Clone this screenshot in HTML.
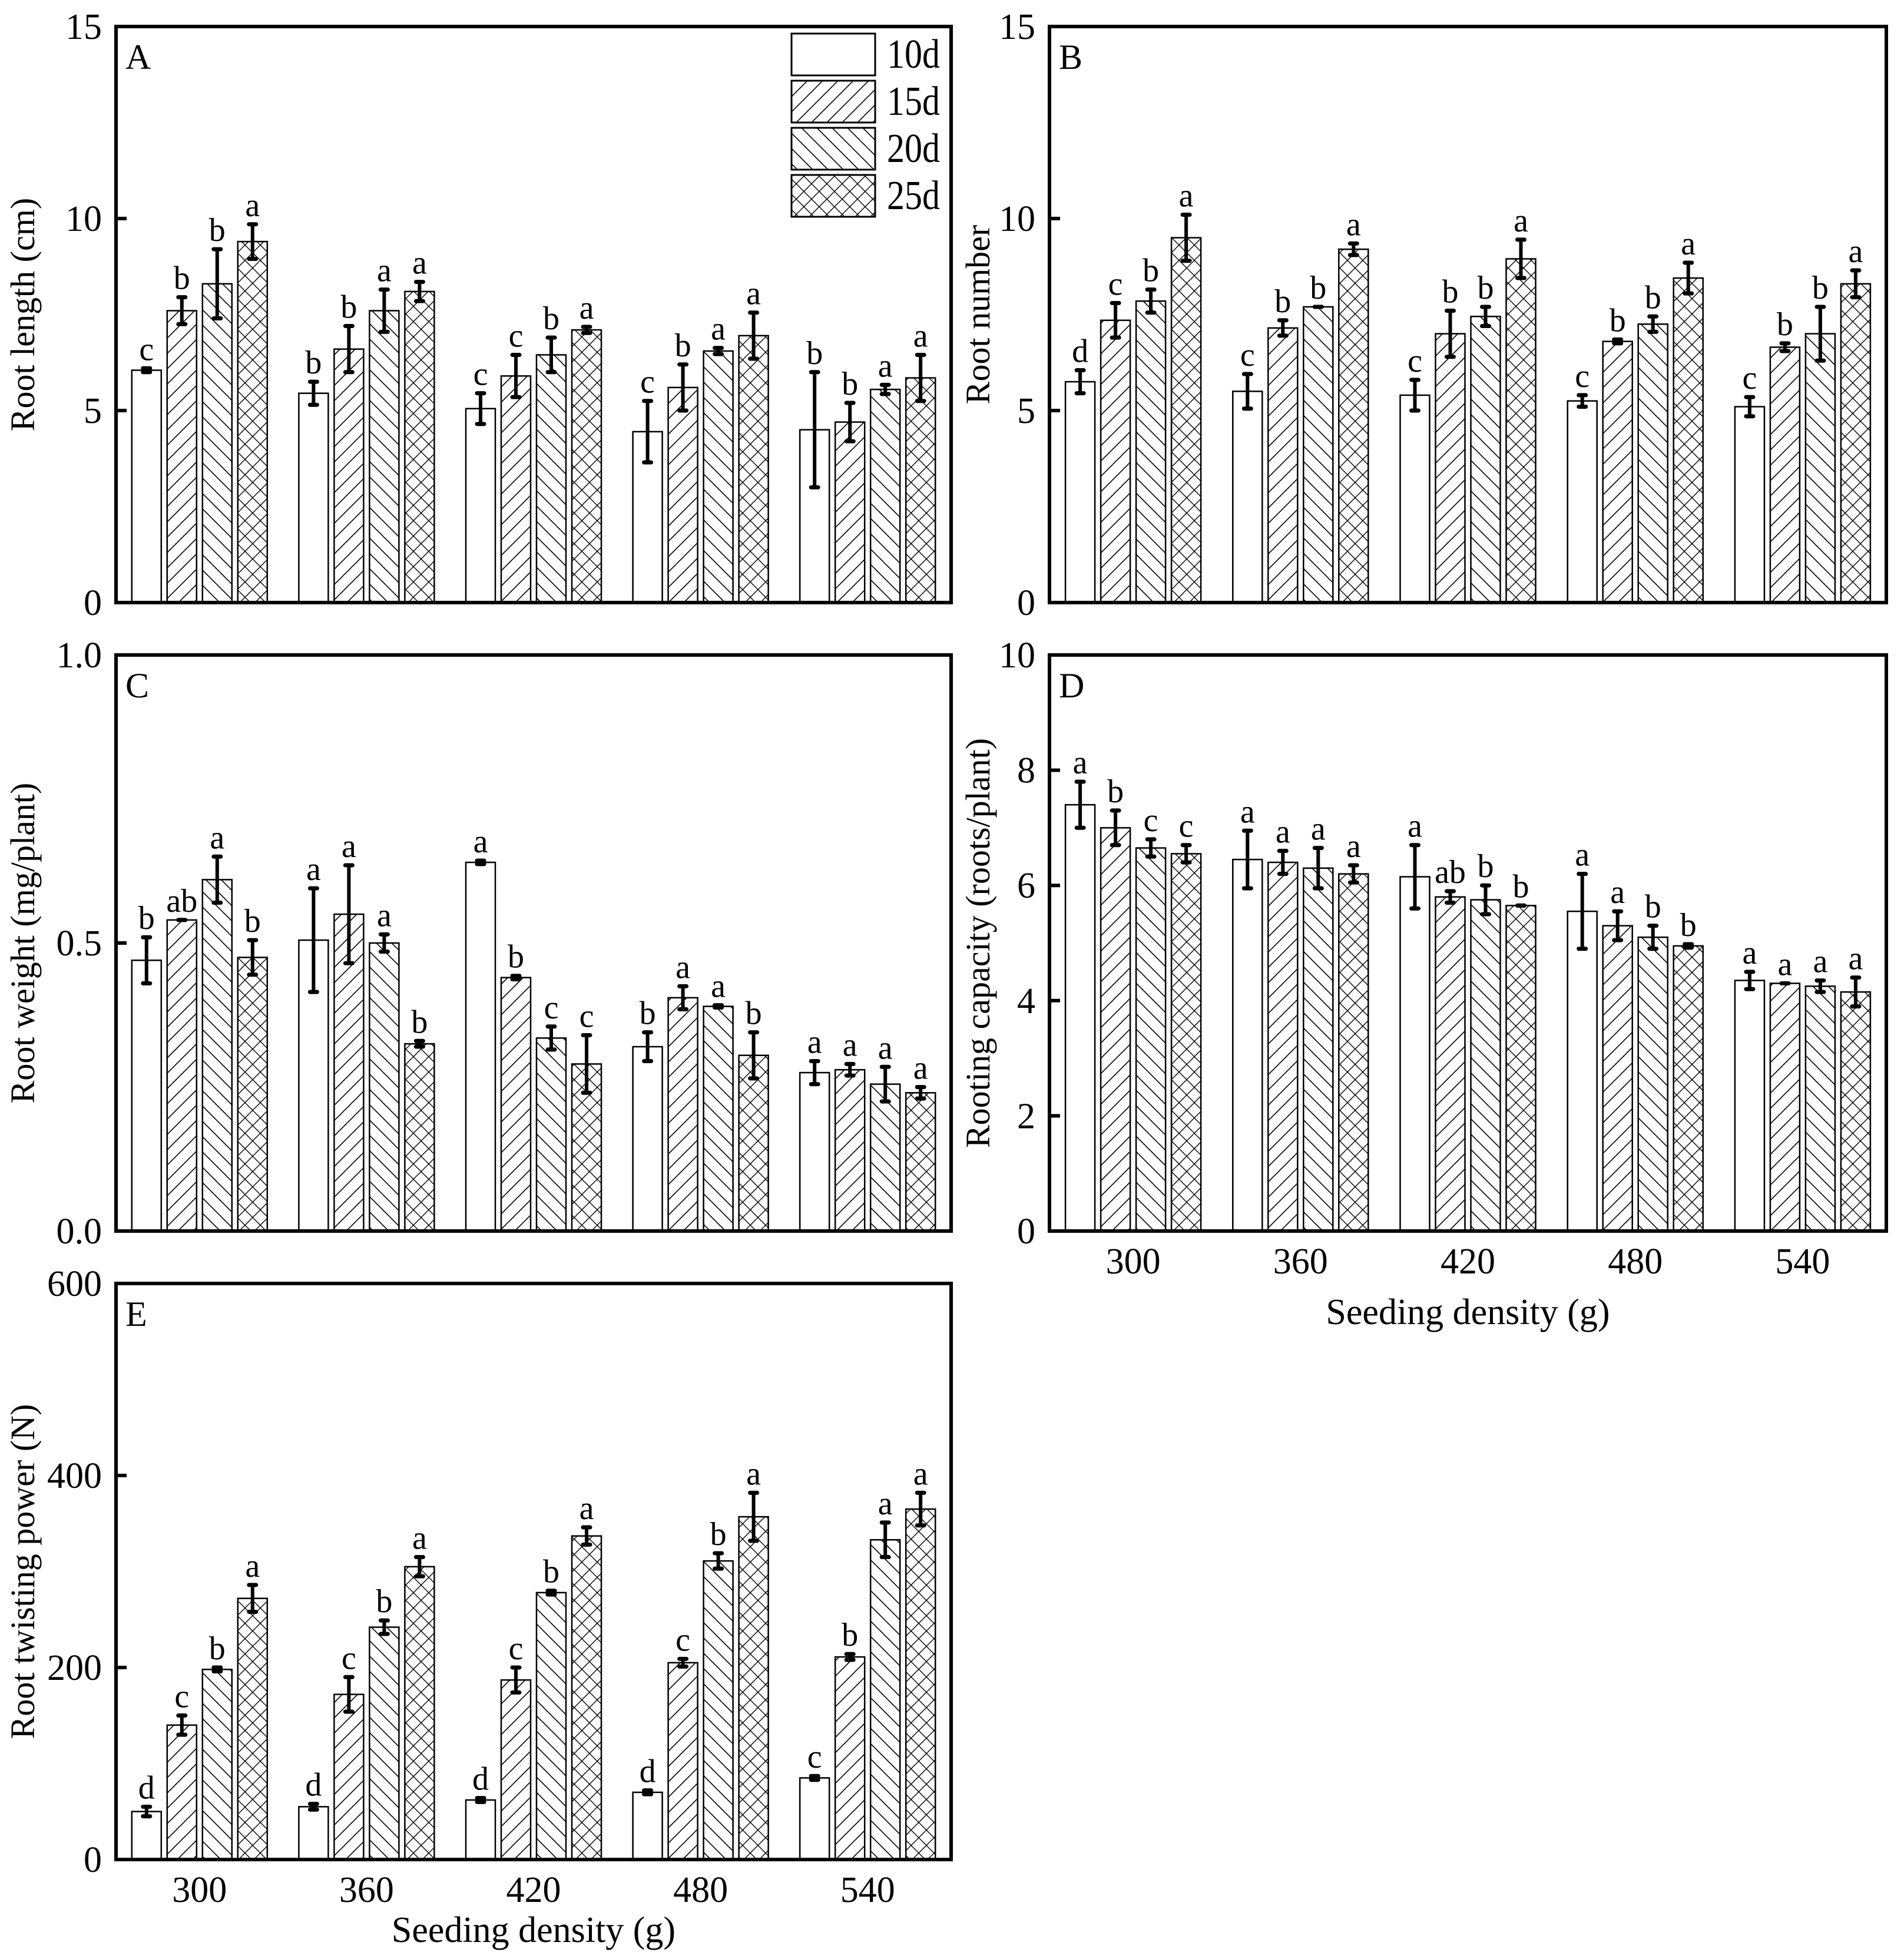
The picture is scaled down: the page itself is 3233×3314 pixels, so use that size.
<!DOCTYPE html>
<html><head><meta charset="utf-8"><style>
html,body{margin:0;padding:0;background:#fff}
svg{display:block}
text{font-family:"Liberation Serif",serif;fill:#000}
</style></head><body>
<svg id="fig" xmlns="http://www.w3.org/2000/svg" width="3233" height="3314" viewBox="0 0 3233 3314">
<defs>
<pattern id="p15" patternUnits="userSpaceOnUse" width="26" height="26"><path d="M-2,28 L28,-2 M-15,15 L15,-15 M11,41 L41,11" stroke="#000" stroke-width="1.6"/></pattern>
<pattern id="p20" patternUnits="userSpaceOnUse" width="26" height="26"><path d="M-2,-2 L28,28 M-15,11 L15,41 M11,-15 L41,15" stroke="#000" stroke-width="1.6"/></pattern>
<pattern id="p25" patternUnits="userSpaceOnUse" width="26" height="26"><path d="M-2,28 L28,-2 M-15,15 L15,-15 M11,41 L41,11 M-2,-2 L28,28 M-15,11 L15,41 M11,-15 L41,15" stroke="#000" stroke-width="1.4"/></pattern>
</defs>
</svg>
<script>
const categories = ["300","360","420","480","540"];
const fills = ["#fff","url(#p15)","url(#p20)","url(#p25)"];
// Panel A: root length
const aMean = [[6.05,7.6,8.3,9.4],[5.45,6.6,7.6,8.1],[5.05,5.9,6.45,7.1],[4.45,5.6,6.55,6.95],[4.5,4.7,5.55,5.85]];
const aErr  = [[0.05,0.35,0.9,0.45],[0.3,0.6,0.55,0.25],[0.4,0.55,0.45,0.08],[0.8,0.6,0.08,0.6],[1.5,0.5,0.12,0.6]];
const aLet  = [["c","b","b","a"],["b","b","a","a"],["c","c","b","a"],["c","b","a","a"],["b","b","a","a"]];
// Panel B: root number
const bMean = [[5.75,7.35,7.85,9.5],[5.5,7.15,7.7,9.2],[5.4,7.0,7.45,8.95],[5.25,6.8,7.25,8.45],[5.1,6.65,7.0,8.3]];
const bErr  = [[0.3,0.45,0.3,0.6],[0.45,0.2,0,0.15],[0.4,0.6,0.25,0.5],[0.15,0.05,0.2,0.4],[0.25,0.1,0.7,0.35]];
const bLet  = [["d","c","b","a"],["c","b","b","a"],["c","b","b","a"],["c","b","b","a"],["c","b","b","a"]];
// Panel C: root weight
const cMean = [[0.47,0.54,0.61,0.475],[0.505,0.55,0.50,0.325],[0.64,0.44,0.335,0.29],[0.32,0.405,0.39,0.305],[0.275,0.28,0.255,0.24]];
const cErr  = [[0.04,0,0.04,0.03],[0.09,0.085,0.015,0.005],[0.003,0.003,0.02,0.05],[0.025,0.02,0.002,0.04],[0.02,0.01,0.03,0.01]];
const cLet  = [["b","ab","a","b"],["a","a","a","b"],["a","b","c","c"],["b","a","a","b"],["a","a","a","a"]];
// Panel D: rooting capacity
const dMean = [[7.4,7.0,6.65,6.55],[6.45,6.4,6.3,6.2],[6.15,5.8,5.75,5.65],[5.55,5.3,5.1,4.95],[4.35,4.3,4.25,4.15]];
const dErr  = [[0.4,0.3,0.15,0.15],[0.5,0.2,0.35,0.15],[0.55,0.1,0.25,0],[0.65,0.25,0.2,0.03],[0.15,0,0.1,0.25]];
const dLet  = [["a","b","c","c"],["a","a","a","a"],["a","ab","b","b"],["a","a","b","b"],["a","a","a","a"]];
// Panel E: root twisting power
const eMean = [[50,140,198,272],[55,172,242,305],[62,187,278,337],[70,205,311,357],[85,211,333,365]];
const eErr  = [[5,10,2,14],[3,18,7,10],[2,13,2,9],[2,4,8,25],[2,3,18,17]];
const eLet  = [["d","c","b","a"],["d","c","b","a"],["d","c","b","a"],["d","c","b","a"],["c","b","a","a"]];
const aTicks=[0,5,10,15], bTicks=[0,5,10,15], cTicks=["0.0","0.5","1.0"], dTicks=[0,2,4,6,8,10], eTicks=[0,200,400,600];
const legendLabels=["10d","15d","20d","25d"];

const svg=document.getElementById('fig');
const NS='http://www.w3.org/2000/svg';
function mk(tag,attrs,parent){const e=document.createElementNS(NS,tag);for(const k in attrs)e.setAttribute(k,attrs[k]);(parent||svg).appendChild(e);return e;}

function panel(cfg){
  const g=mk('g',{});
  
  
  const {x0,x1,y0,y1,ymax}=cfg;
  const Y=v=>y1-(v/ymax)*(y1-y0);
  const band=(x1-x0)/categories.length;
  const X=i=>x0+band*(i+0.5);
  for(let i=0;i<categories.length;i++){
    for(let j=0;j<4;j++){
      const m=cfg.mean[i][j], e=cfg.err[i][j];
      const cx=X(i)+(j-1.5)*60;
      const r=mk('rect',{x:cx-25,y:Y(m),width:50,height:y1-Y(m),fill:fills[j],stroke:'#000','stroke-width':2.5},g);
      
      
      const eg=mk('g',{},g);
      
      
      mk('line',{x1:cx,x2:cx,y1:Y(m+e),y2:Y(m-e),stroke:'#000','stroke-width':6},eg);
      for(const yy of [Y(m+e),Y(m-e)]){
        mk('line',{x1:cx-6,x2:cx+6,y1:yy,y2:yy,stroke:'#000','stroke-width':7,'stroke-linecap':'round'},eg);
      }
      const t=mk('text',{x:cx,y:Y(m+e)-14,'text-anchor':'middle','font-size':56},g);
      t.textContent=cfg.lets[i][j];
      
      
    }
  }
  const fr=mk('rect',{x:x0,y:y0,width:x1-x0,height:y1-y0,fill:'none',stroke:'#000','stroke-width':6},g);
  
  
  for(const tv of cfg.ticks){
    const v=parseFloat(tv), yy=Y(v);
    mk('line',{x1:x0,x2:x0+18,y1:yy,y2:yy,stroke:'#000','stroke-width':6},g);
    const t=mk('text',{x:x0-24,y:yy+21,'text-anchor':'end','font-size':62},g);
    t.textContent=tv;
    
    
  }
  const yt=mk('text',{x:0,y:0,'text-anchor':'middle','font-size':58,transform:`translate(${cfg.titleX},${(y0+y1)/2}) rotate(-90)`},g);
  yt.textContent=cfg.title;
  
  
  const pl=mk('text',{x:x0+16,y:y0+72,'font-size':60},g);
  pl.textContent=cfg.id;
  
  
  if(cfg.xlabels){
    for(let i=0;i<categories.length;i++){
      const t=mk('text',{x:X(i),y:y1+72,'text-anchor':'middle','font-size':62},g);
      t.textContent=categories[i];
      
      
    }
    const xt=mk('text',{x:(x0+x1)/2,y:y1+cfg.xtitleOff,'text-anchor':'middle','font-size':62},g);
    xt.textContent='Seeding density (g)';
    
    
  }
}

panel({id:'A',x0:197,x1:1615,y0:45,y1:1023,ymax:15,ticks:aTicks,mean:aMean,err:aErr,lets:aLet,title:'Root length (cm)',titleX:58});
panel({id:'B',x0:1782,x1:3203,y0:45,y1:1023,ymax:15,ticks:bTicks,mean:bMean,err:bErr,lets:bLet,title:'Root number',titleX:1680});
panel({id:'C',x0:197,x1:1615,y0:1112,y1:2090,ymax:1,ticks:cTicks,mean:cMean,err:cErr,lets:cLet,title:'Root weight (mg/plant)',titleX:58});
panel({id:'D',x0:1782,x1:3203,y0:1112,y1:2090,ymax:10,ticks:dTicks,mean:dMean,err:dErr,lets:dLet,title:'Rooting capacity (roots/plant)',titleX:1680,xlabels:true,xtitleOff:158});
panel({id:'E',x0:197,x1:1615,y0:2179,y1:3157,ymax:600,ticks:eTicks,mean:eMean,err:eErr,lets:eLet,title:'Root twisting power (N)',titleX:58,xlabels:true,xtitleOff:140});

const lg=mk('g',{});


for(let j=0;j<4;j++){
  const yy=57+j*80;
  const r=mk('rect',{x:1344,y:yy,width:142,height:71,fill:fills[j],stroke:'#000','stroke-width':3},lg);
  
  
  const t=mk('text',{x:1506,y:yy+58,'font-size':70,textLength:90,lengthAdjust:'spacingAndGlyphs'},lg);
  t.textContent=legendLabels[j];
  
  
}
</script>
</body></html>
